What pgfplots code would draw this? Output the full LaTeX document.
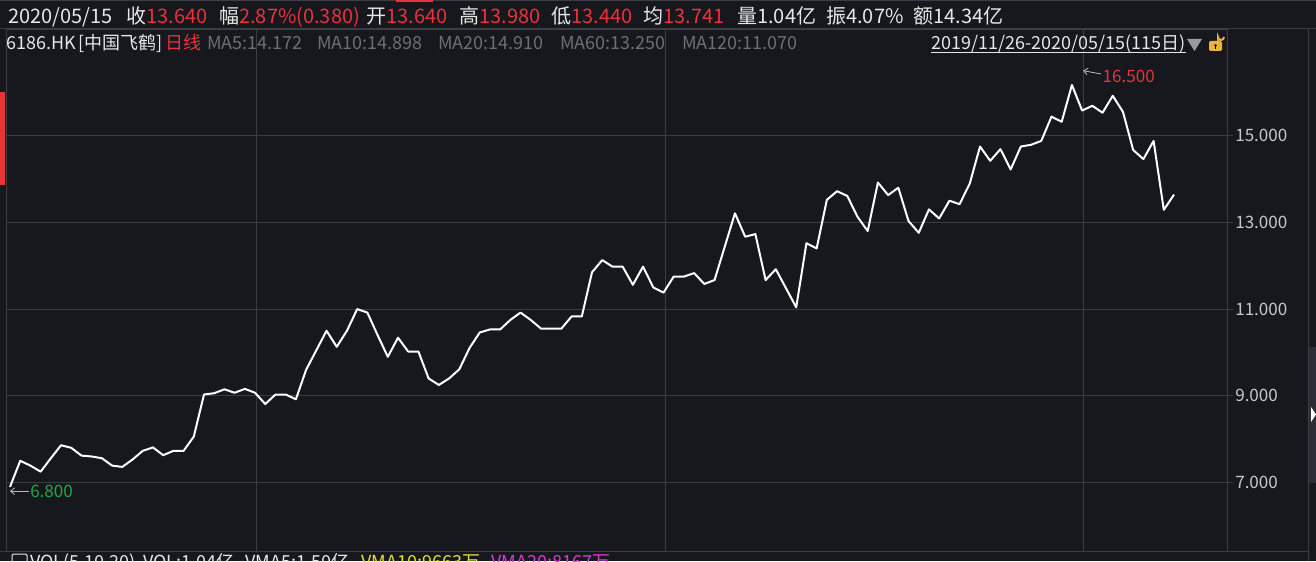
\documentclass[border=0pt]{standalone}
\usepackage{pgfplots}
\pgfplotsset{compat=1.18}
\usetikzlibrary{arrows.meta}
\usepackage{fontspec}
\setmainfont{Noto Sans CJK SC}
\definecolor{bg}{HTML}{16181D}
\definecolor{gridc}{HTML}{3A3D44}
\definecolor{txt}{HTML}{E6E6E6}
\definecolor{hred}{HTML}{E8323C}
\definecolor{magray}{HTML}{6E6E6E}
\definecolor{lowgreen}{HTML}{22A845}
\definecolor{ticktxt}{HTML}{C8C8C8}
\definecolor{lockyel}{HTML}{E8B33A}
\definecolor{vyel}{HTML}{E0E02A}
\definecolor{vmag}{HTML}{D63AD6}
\definecolor{arrowc}{HTML}{BBBBBB}
\definecolor{panelc}{HTML}{2A2D33}
\definecolor{trigray}{HTML}{9A9A9A}

\pgfplotstableread{
i v
0 6.90
1 7.50
2 7.39
3 7.25
4 7.56
5 7.86
6 7.80
7 7.62
8 7.60
9 7.56
10 7.39
11 7.36
12 7.53
13 7.73
14 7.81
15 7.63
16 7.73
17 7.73
18 8.06
19 9.03
20 9.06
21 9.15
22 9.07
23 9.16
24 9.07
25 8.81
26 9.03
27 9.03
28 8.92
29 9.60
30 10.05
31 10.50
32 10.13
33 10.50
34 11.00
35 10.92
36 10.40
37 9.90
38 10.34
39 10.02
40 10.02
41 9.40
42 9.25
43 9.40
44 9.61
45 10.10
46 10.46
47 10.53
48 10.53
49 10.75
50 10.92
51 10.75
52 10.55
53 10.55
54 10.55
55 10.83
56 10.83
57 11.85
58 12.13
59 11.98
60 11.98
61 11.56
62 11.98
63 11.50
64 11.38
65 11.75
66 11.75
67 11.83
68 11.58
69 11.67
70 12.44
71 13.21
72 12.67
73 12.73
74 11.67
75 11.92
76 11.48
77 11.04
78 12.52
79 12.40
80 13.52
81 13.72
82 13.61
83 13.13
84 12.80
85 13.92
86 13.63
87 13.80
88 13.03
89 12.76
90 13.30
91 13.09
92 13.50
93 13.42
94 13.90
95 14.75
96 14.42
97 14.69
98 14.22
99 14.75
100 14.79
101 14.88
102 15.44
103 15.32
104 16.17
105 15.58
106 15.69
107 15.53
108 15.92
109 15.55
110 14.67
111 14.46
112 14.88
113 13.29
114 13.64
}\pricedata

\newcommand{\fa}{\fontsize{15pt}{17pt}\selectfont}
\newcommand{\fb}{\fontsize{13.5pt}{15pt}\selectfont}
\newcommand{\fc}{\fontsize{12.8pt}{14pt}\selectfont}

\begin{document}
\begin{tikzpicture}
\fill[bg] (0,0) rectangle (987pt,420.75pt);
\begin{axis}[
  at={(4.5pt,7.5pt)}, anchor=south west,
  scale only axis, width=915.75pt, height=390.75pt,
  xmin=-0.392, xmax=119.19, ymin=5.420, ymax=17.438,
  axis line style={gridc, line width=0.75pt},
  grid=major, major grid style={gridc, line width=0.75pt},
  xtick={24.1,64.15,105.1}, xticklabels={},
  xtick style={draw=none},
  ytick={7,9,11,13,15},
  yticklabels={7.000,9.000,11.000,13.000,15.000},
  ytick pos=right, yticklabel pos=right,
  tick align=outside, major tick length=4.5pt,
  ytick style={gridc, line width=0.75pt},
  yticklabel style={font=\fc, text=ticktxt, anchor=west, inner sep=0pt, xshift=1.5pt},
  clip=false,
]
\addplot[color=white, line width=1.5pt, line join=round, mark=none] table[x=i, y=v] {\pricedata};
\draw[arrowc, line width=0.6pt, -{Straight Barb[length=3pt,width=5pt]}] ([xshift=14pt]axis cs:0,6.8) -- (axis cs:0,6.8);
\node[anchor=west, text=lowgreen, font=\fc, inner sep=0pt] at ([xshift=15pt]axis cs:0,6.8) {6.800};
\draw[arrowc, line width=0.6pt, -{Straight Barb[length=3pt,width=5pt]}] ([xshift=13.5pt,yshift=-2.5pt]axis cs:105.1,16.5) -- (axis cs:105.1,16.5);
\node[anchor=west, text=hred, font=\fc, inner sep=0pt] at ([xshift=14.5pt,yshift=-4.5pt]axis cs:105.1,16.5) {16.500};
\end{axis}

\begin{scope}[shift={(0,420.75pt)}, x=0.75pt, y=-0.75pt]
% frame lines
\draw[gridc, line width=0.75pt] (0,1) -- (1316,1);
\fill[hred] (396,0) rectangle (433,2);
\draw[gridc, line width=0.75pt] (0,29) -- (1316,29);
\draw[gridc, line width=0.75pt] (1308,29) -- (1308,561);
\draw[gridc, line width=0.75pt] (0,551) -- (1308,551);
\fill[panelc] (1309,347) rectangle (1316,483);
\fill[white] (1311,407) -- (1316,414.5) -- (1311,422) -- cycle;
\fill[hred] (0,92) rectangle (5,185);
% row 1
\begin{scope}[every node/.style={anchor=base west, inner sep=0pt, font=\fa, text=txt}]
\node at (8,24) {2020/05/15};
\node at (126,24) {收\textcolor{hred}{13.640}};
\node at (219,24) {幅\textcolor{hred}{2.87\%(0.380)}};
\node at (366,24) {开\textcolor{hred}{13.640}};
\node at (459,24) {高\textcolor{hred}{13.980}};
\node at (551,24) {低\textcolor{hred}{13.440}};
\node at (643,24) {均\textcolor{hred}{13.741}};
\node at (737,24) {量1.04亿};
\node at (826,24) {振4.07\%};
\node at (913,24) {额14.34亿};
\end{scope}
% row 2
\begin{scope}[every node/.style={anchor=base west, inner sep=0pt, font=\fb, text=txt}]
\node at (6,50) {6186.HK};
\node at (78,50) {[中国飞鹤]};
\node[text=hred] at (165,50) {日线};
\node[text=magray] at (207,50) {MA5:14.172};
\node[text=magray] at (317,50) {MA10:14.898};
\node[text=magray] at (438,50) {MA20:14.910};
\node[text=magray] at (560,50) {MA60:13.250};
\node[text=magray] at (682,50) {MA120:11.070};
\node (rng) at (931,50) {2019/11/26-2020/05/15(115日)};
\draw[txt, line width=0.75pt] (931,53) -- (rng.east |- 0,53);
\end{scope}
\fill[trigray] (1187,39) -- (1202,39) -- (1194.5,51) -- cycle;
\draw[lockyel, line width=1.5pt] (1218,41) -- (1218,37) arc[start angle=180, end angle=0, radius=3];
\fill[lockyel, rounded corners=1pt] (1209,41) rectangle (1222,51);
\fill[black] (1215.5,45.5) circle[radius=1.3];
\fill[black] (1215,46) rectangle (1216,49);
% bottom (cut) row, as in the reference
\begin{scope}[every node/.style={anchor=base west, inner sep=0pt, font=\fb, text=txt}]
\draw[txt, line width=0.75pt, rounded corners=1pt] (12,554) rectangle (27,572);
\node at (30,568) {VOL(5,10,20)};
\node at (143,568) {VOL:1.04亿};
\node at (245,568) {VMA5:1.50亿};
\node[text=vyel] at (361,568) {VMA10:9663万};
\node[text=vmag] at (491,568) {VMA20:8167万};
\end{scope}
\end{scope}
\pgfresetboundingbox
\path[use as bounding box] (0,0) rectangle (987pt,420.75pt);
\end{tikzpicture}
\end{document}
